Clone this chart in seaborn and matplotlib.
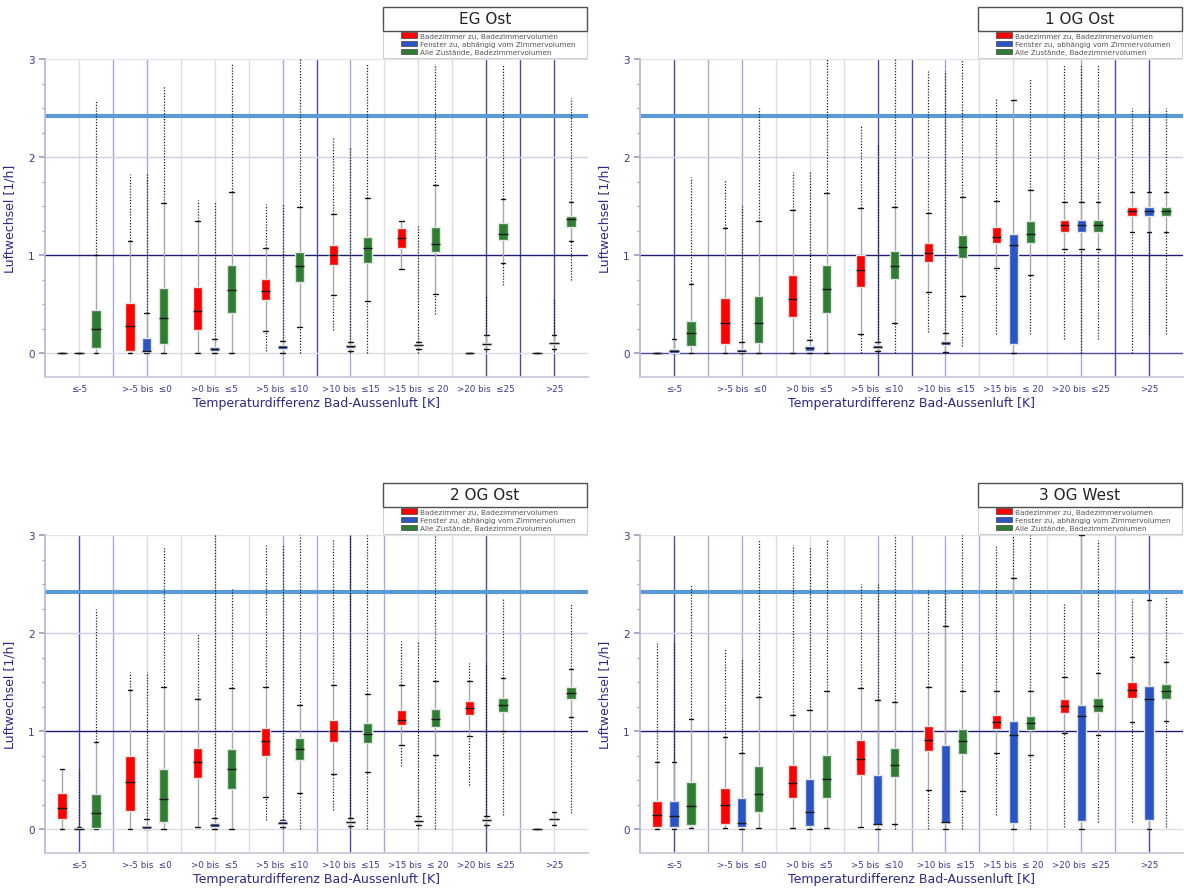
import numpy as np
import pandas as pd
import matplotlib
matplotlib.use("Agg")
import matplotlib.pyplot as plt
import seaborn as sns
from matplotlib.patches import Patch, Rectangle
from matplotlib.ticker import MultipleLocator

# ---------------- data ----------------
CATEGORIES = ["≤-5", ">-5 bis  ≤0", ">0 bis  ≤5", ">5 bis  ≤10",
              ">10 bis  ≤15", ">15 bis  ≤ 20", ">20 bis  ≤25", ">25"]
SERIES = ["Badezimmer zu, Badezimmervolumen",
          "Fenster zu, abhängig vom Zimmervolumen",
          "Alle Zustände, Badezimmervolumen"]
TITLES = ["EG Ost", "1 OG Ost", "2 OG Ost", "3 OG West"]
LIMIT = 2.42
XLABEL = "Temperaturdifferenz Bad-Aussenluft [K]"
YLABEL = "Luftwechsel [1/h]"
YTICKS = [0, 1, 2, 3]

# per box: (whisker low, q1, median, q3, whisker high, outlier min, outlier max)
EG_RED = [(0, 0, 0, 0, 0, 0, 0), (0, 0.02, 0.28, 0.51, 1.15, 0, 1.83),
          (0, 0.24, 0.43, 0.68, 1.35, 0, 1.56), (0.23, 0.54, 0.64, 0.76, 1.07, 0.03, 1.52),
          (0.60, 0.90, 1.00, 1.11, 1.42, 0.24, 2.2), (0.86, 1.07, 1.18, 1.28, 1.35, 0.86, 1.35),
          (0, 0, 0, 0, 0, 0, 0), (0, 0, 0, 0, 0, 0, 0)]
EG_BLUE = [(0, 0, 0, 0, 0, 0, 0), (0, 0.01, 0.03, 0.16, 0.41, 0, 1.83),
           (0, 0.03, 0.05, 0.07, 0.15, 0, 1.55), (0, 0.05, 0.07, 0.085, 0.13, 0, 1.52),
           (0.03, 0.06, 0.075, 0.085, 0.12, 0, 2.1), (0.05, 0.075, 0.085, 0.095, 0.12, 0, 1.3),
           (0.05, 0.085, 0.095, 0.105, 0.19, 0.05, 0.6), (0.05, 0.095, 0.105, 0.115, 0.19, 0.05, 0.57)]
EG_GREEN = [(0, 0.06, 0.25, 0.44, 1.0, 0, 2.58), (0, 0.10, 0.36, 0.67, 1.53, 0, 2.72),
            (0, 0.41, 0.65, 0.90, 1.64, 0, 2.95), (0.27, 0.73, 0.89, 1.03, 1.49, 0, 3.0),
            (0.53, 0.92, 1.07, 1.19, 1.58, 0, 2.95), (0.61, 1.03, 1.12, 1.29, 1.72, 0.4, 2.95),
            (0.92, 1.16, 1.22, 1.33, 1.57, 0.7, 2.95), (1.15, 1.29, 1.37, 1.40, 1.54, 0.75, 2.6)]

OG1_RED = [(0, 0, 0, 0, 0, 0, 0), (0, 0.095, 0.31, 0.57, 1.28, 0, 1.77),
           (0, 0.37, 0.55, 0.80, 1.46, 0, 1.85), (0.20, 0.68, 0.85, 1.0, 1.48, 0, 2.33),
           (0.63, 0.93, 1.02, 1.13, 1.43, 0.22, 2.88), (0.87, 1.13, 1.19, 1.29, 1.55, 0.2, 2.6),
           (1.06, 1.24, 1.31, 1.36, 1.54, 0.15, 2.95), (1.24, 1.40, 1.45, 1.49, 1.65, 0, 2.5)]
OG1_BLUE = [(0, 0, 0.02, 0.05, 0.15, 0, 0.15), (0, 0.01, 0.03, 0.05, 0.12, 0, 1.5),
            (0, 0.03, 0.06, 0.075, 0.14, 0, 1.85), (0.02, 0.06, 0.07, 0.085, 0.12, 0, 2.12),
            (0.01, 0.085, 0.11, 0.125, 0.21, 0, 2.88), (0, 0.10, 1.11, 1.22, 2.58, 0, 2.58),
            (1.06, 1.24, 1.31, 1.36, 1.54, 0, 2.95), (1.24, 1.40, 1.45, 1.49, 1.65, 0.2, 2.5)]
OG1_GREEN = [(0, 0.08, 0.21, 0.33, 0.71, 0, 1.8), (0, 0.105, 0.31, 0.59, 1.35, 0, 2.5),
             (0, 0.41, 0.66, 0.90, 1.63, 0, 3.0), (0.31, 0.76, 0.89, 1.04, 1.49, 0, 3.0),
             (0.59, 0.97, 1.08, 1.21, 1.59, 0.08, 3.0), (0.80, 1.13, 1.22, 1.35, 1.67, 0.2, 2.8),
             (1.06, 1.24, 1.31, 1.36, 1.54, 0.15, 2.95), (1.24, 1.40, 1.45, 1.49, 1.65, 0.2, 2.5)]

OG2_RED = [(0, 0.11, 0.22, 0.37, 0.62, 0, 0.62), (0, 0.19, 0.48, 0.75, 1.42, 0, 1.6),
           (0.03, 0.52, 0.69, 0.83, 1.33, 0.03, 2.0), (0.33, 0.75, 0.90, 1.03, 1.45, 0.1, 2.9),
           (0.57, 0.89, 1.0, 1.12, 1.47, 0.2, 2.95), (0.86, 1.06, 1.12, 1.22, 1.47, 0.65, 1.92),
           (0.95, 1.17, 1.24, 1.31, 1.51, 0.45, 1.7), (0, 0, 0, 0, 0, 0, 0)]
OG2_BLUE = [(0, 0, 0, 0.01, 0.03, 0, 0.62), (0, 0, 0.02, 0.04, 0.11, 0, 1.6),
            (0, 0.03, 0.05, 0.07, 0.12, 0, 3.0), (0.02, 0.06, 0.07, 0.085, 0.10, 0, 2.9),
            (0.04, 0.07, 0.08, 0.085, 0.12, 0, 3.0), (0.05, 0.08, 0.09, 0.10, 0.14, 0, 1.92),
            (0.05, 0.085, 0.095, 0.11, 0.14, 0, 1.7), (0.05, 0.10, 0.11, 0.12, 0.18, 0.05, 0.18)]
OG2_GREEN = [(0, 0.01, 0.17, 0.36, 0.89, 0, 2.25), (0, 0.075, 0.31, 0.62, 1.45, 0, 2.88),
             (0, 0.41, 0.62, 0.82, 1.44, 0, 2.45), (0.37, 0.71, 0.82, 0.93, 1.27, 0, 3.0),
             (0.59, 0.88, 0.97, 1.08, 1.38, 0, 3.0), (0.76, 1.04, 1.13, 1.23, 1.51, 0, 3.0),
             (1.0, 1.2, 1.27, 1.34, 1.54, 0.15, 2.35), (1.15, 1.33, 1.39, 1.45, 1.63, 0.17, 2.3)]

OG3_RED = [(0, 0.02, 0.15, 0.29, 0.69, 0, 1.9), (0.01, 0.06, 0.25, 0.42, 0.94, 0.01, 1.85),
           (0.01, 0.32, 0.47, 0.66, 1.17, 0.01, 2.9), (0.02, 0.55, 0.72, 0.91, 1.44, 0.02, 2.5),
           (0.40, 0.80, 0.91, 1.05, 1.45, 0, 2.45), (0.78, 1.02, 1.09, 1.17, 1.41, 0.15, 2.9),
           (0.98, 1.19, 1.26, 1.33, 1.55, 0.02, 2.3), (1.09, 1.34, 1.42, 1.50, 1.76, 0.08, 2.35)]
OG3_BLUE = [(0, 0.02, 0.14, 0.29, 0.69, 0, 1.9), (0, 0.02, 0.07, 0.32, 0.78, 0, 1.75),
            (0, 0.04, 0.18, 0.51, 1.22, 0, 2.88), (0, 0.05, 0.06, 0.55, 1.32, 0, 2.5),
            (0, 0.07, 0.08, 0.86, 2.07, 0, 2.45), (0, 0.07, 0.96, 1.10, 2.56, 0, 3.0),
            (0, 0.085, 1.16, 1.27, 3.0, 0, 3.0), (0, 0.095, 1.33, 1.46, 2.34, 0, 2.34)]
OG3_GREEN = [(0.01, 0.05, 0.24, 0.48, 1.13, 0.01, 2.5), (0.01, 0.18, 0.36, 0.65, 1.35, 0.01, 2.95),
             (0.01, 0.32, 0.51, 0.76, 1.41, 0.01, 2.95), (0.06, 0.53, 0.66, 0.83, 1.30, 0, 3.0),
             (0.39, 0.77, 0.90, 1.02, 1.41, 0, 3.0), (0.76, 1.01, 1.08, 1.16, 1.41, 0, 3.0),
             (0.96, 1.20, 1.26, 1.34, 1.59, 0.08, 2.95), (1.1, 1.33, 1.41, 1.48, 1.71, 0.02, 2.38)]

PANELS = [(EG_RED, EG_BLUE, EG_GREEN), (OG1_RED, OG1_BLUE, OG1_GREEN),
          (OG2_RED, OG2_BLUE, OG2_GREEN), (OG3_RED, OG3_BLUE, OG3_GREEN)]

# ---------------- style ----------------
COLORS = ["#FF0000", "#2B55C6", "#2E7D32"]
NAVY = "#2a2a86"
GRID_STYLE = ["lmmlllmdmlllddd", "dmmlllddmlllmdd", "dmllllmmdmlldml", "dmmlllmmmmllmmd"]
H0_STYLE = ["l", "d", "l", "l"]
GRID_COL = {"d": "#4a4aa6", "m": "#a9a9d2", "l": "#dcdce6"}

sns.set_theme(style="white")
plt.rcParams["font.family"] = ["DejaVu Sans"]

fig = plt.figure(figsize=(11.84, 8.95), dpi=100)
W, H = 1184.0, 895.0
AX_POS = [(45, 60), (640, 60), (45, 536), (640, 536)]
AXW, AXH = 543, 318


def long_frame(red, blue, green):
    rows = []
    for name, stats in zip(SERIES, (red, blue, green)):
        for cat, st in zip(CATEGORIES, stats):
            for v in st[:5]:
                rows.append((cat, name, v))
    return pd.DataFrame(rows, columns=["cat", "series", "val"])


for k, (panel, title) in enumerate(zip(PANELS, TITLES)):
    px, py = AX_POS[k]
    ax = fig.add_axes([px / W, 1 - (py + AXH) / H, AXW / W, AXH / H])
    df = long_frame(*panel)

    # grid lines
    gpos = np.arange(0, 7.01, 0.5)
    for x, s in zip(gpos, GRID_STYLE[k]):
        ax.axvline(x, color=GRID_COL[s], lw=1.0, zorder=0.5)
    ax.axhline(0, color=GRID_COL[H0_STYLE[k]], lw=1.0, zorder=0.5)
    ax.axhline(2, color="#d0d0e2", lw=1.0, zorder=0.5)
    ax.axhline(3, color="#e2e2ea", lw=1.0, zorder=0.5)
    ax.axhline(1, color="#1c1c72", lw=1.0, zorder=0.6)
    ax.axhline(LIMIT, color="#5B9BD5", lw=3, zorder=0.7)

    sns.boxplot(data=df, x="cat", y="val", hue="series", order=CATEGORIES,
                hue_order=SERIES, palette=COLORS, saturation=1, whis=(0, 100),
                width=0.75, gap=0.45, dodge=True, linewidth=1, fliersize=0,
                legend=False, ax=ax,
                boxprops=dict(edgecolor="#e4e4e4", zorder=3),
                whiskerprops=dict(color="#a8a8a8", zorder=2),
                capprops=dict(color="#111111", zorder=2),
                medianprops=dict(color="#1a1a1a", lw=1, zorder=4))

    # outlier ranges (dense outlier dots)
    for j, stats in enumerate(panel):
        arr = np.array(stats, dtype=float)
        xs = np.arange(len(CATEGORIES)) + (j - 1) * 0.25
        hi = arr[:, 6] > arr[:, 4]
        ax.vlines(xs[hi], arr[hi, 4], arr[hi, 6], colors="#1e1e1e",
                  linestyles=(0, (1, 1.3)), lw=0.9, zorder=1.8)
        lo = arr[:, 5] < arr[:, 0]
        ax.vlines(xs[lo], arr[lo, 5], arr[lo, 0], colors="#1e1e1e",
                  linestyles=(0, (1, 1.3)), lw=0.9, zorder=1.8)

    ax.set_xlim(-0.5, 7.5)
    ax.set_ylim(-0.24, 3.0)
    ax.set_yticks(YTICKS)
    ax.set_yticklabels([str(t) for t in YTICKS])
    ax.yaxis.set_minor_locator(MultipleLocator(0.25))
    ax.tick_params(axis="y", which="both", left=True, direction="out",
                   color="#a0a0c0", labelcolor="#3a3a8a", labelsize=7.5)
    ax.tick_params(axis="y", which="major", length=4)
    ax.tick_params(axis="y", which="minor", length=2.5)
    ax.tick_params(axis="x", length=0, labelcolor="#3a3a90", labelsize=6.3, pad=5)
    ax.set_xlabel(XLABEL, color=NAVY, fontsize=9, labelpad=2)
    ax.set_ylabel(YLABEL, color=NAVY, fontsize=9, labelpad=8)
    for side in ("top", "right"):
        ax.spines[side].set_visible(False)
    ax.spines["left"].set_color("#b8b8d0")
    ax.spines["bottom"].set_color("#c8c8d8")

    # title box + legend
    x0, x1 = 0.622, 0.998
    ax.add_patch(Rectangle((x0, 1.088), x1 - x0, 0.0755, transform=ax.transAxes,
                           facecolor="white", edgecolor="#505050", lw=1.0,
                           clip_on=False, zorder=5))
    ax.text((x0 + x1) / 2, 1.126, title, transform=ax.transAxes, ha="center",
            va="center", fontsize=11, color="#222222", zorder=6)
    ax.add_patch(Rectangle((x0, 1.003), x1 - x0, 0.085, transform=ax.transAxes,
                           facecolor="white", edgecolor="#d0d0d0", lw=0.8,
                           clip_on=False, zorder=4))
    handles = [Patch(facecolor=c, edgecolor="#444444", lw=0.5) for c in COLORS]
    leg = ax.legend(handles, SERIES, loc="upper left", bbox_to_anchor=(0.655, 1.086),
                    fontsize=5.2, frameon=False, handlelength=2.2, handleheight=0.75,
                    handletextpad=0.4, labelspacing=0.28, borderpad=0.1,
                    borderaxespad=0)
    for t in leg.get_texts():
        t.set_color("#555555")
    leg.set_zorder(7)

fig.savefig("out.png", dpi=100)
